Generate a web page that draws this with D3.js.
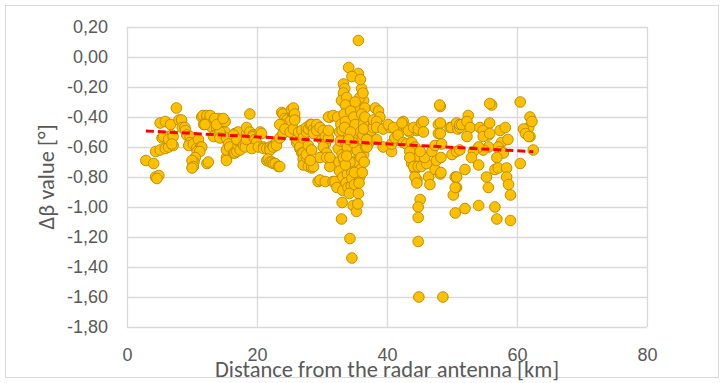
<!DOCTYPE html>
<html>
<head>
<meta charset="utf-8">
<script src="https://cdn.jsdelivr.net/npm/d3@7"></script>
<style>
  body { margin: 0; background: #fff; }
  svg { display: block; font-family: Carlito, Calibri, Lato, sans-serif; }
  .grid line { stroke: #d9d9d9; stroke-width: 1.3; }
  .grid text { fill: #595959; font-size: 18px; }
  .title { fill: #595959; font-size: 22.5px; }
</style>
</head>
<body>
<svg width="725" height="383"></svg>
<script>
// [distance km, delta beta deg]
const points = [
  [2.9,-0.69],[4.1,-0.71],[4.4,-0.80],[4.9,-0.79],[4.6,-0.81],
  [4.4,-0.63],[5.1,-0.62],[5.9,-0.61],[6.4,-0.60],[7.1,-0.59],
  [5.1,-0.44],[5.9,-0.43],[6.7,-0.45],[5.4,-0.54],[6.2,-0.53],[6.9,-0.52],[5.6,-0.53],[6.4,-0.55],[7.1,-0.53],[6.9,-0.58],
  [7.6,-0.34],
  [8.0,-0.42],[8.4,-0.42],[8.5,-0.47],[8.9,-0.47],[9.0,-0.49],[9.2,-0.52],[9.7,-0.53],[9.7,-0.57],[9.5,-0.59],[10.2,-0.58],[10.7,-0.61],
  [11.0,-0.55],[11.3,-0.60],[11.5,-0.60],[10.8,-0.63],[11.2,-0.63],[10.5,-0.67],[10.3,-0.70],[10.1,-0.73],[10.0,-0.69],[10.2,-0.73],[10.0,-0.74],[12.3,-0.71],[12.5,-0.70],
  [11.5,-0.40],[11.7,-0.39],[12.3,-0.40],[12.3,-0.39],[12.8,-0.41],[12.8,-0.39],[13.3,-0.43],[13.3,-0.44],[13.1,-0.47],[13.8,-0.48],[11.8,-0.45],[12.0,-0.45],
  [13.6,-0.52],[13.3,-0.53],[14.1,-0.41],[14.6,-0.42],[14.3,-0.48],[14.9,-0.43],[15.1,-0.50],[14.3,-0.50],[14.3,-0.54],[13.5,-0.41],[13.8,-0.45],[15.1,-0.43],[14.8,-0.41],
  [15.3,-0.54],[15.6,-0.58],[15.8,-0.61],[15.3,-0.67],[15.3,-0.69],[15.3,-0.62],[15.8,-0.60],[16.4,-0.64],[16.6,-0.64],[16.9,-0.63],[17.1,-0.59],[17.4,-0.57],[17.4,-0.62],
  [16.6,-0.51],[17.1,-0.50],[16.4,-0.52],[16.9,-0.55],[17.9,-0.59],[18.2,-0.57],[18.2,-0.60],[18.4,-0.51],[18.4,-0.47],[18.4,-0.55],[18.9,-0.38],[18.9,-0.50],
  [19.4,-0.52],[19.4,-0.53],[19.7,-0.55],[19.9,-0.58],[19.9,-0.57],[19.2,-0.61],[20.2,-0.60],[20.5,-0.50],[20.7,-0.51],
  [21.0,-0.60],[21.0,-0.61],[21.5,-0.61],[22.0,-0.60],[22.0,-0.62],[22.5,-0.59],[22.5,-0.60],[23.0,-0.57],[23.0,-0.59],[23.5,-0.54],[24.0,-0.51],
  [21.5,-0.69],[21.7,-0.68],[22.0,-0.70],[22.3,-0.70],[22.5,-0.71],[22.8,-0.71],[23.3,-0.73],[23.5,-0.73],
  [23.8,-0.37],[24.0,-0.38],[24.3,-0.41],[24.6,-0.45],[24.6,-0.42],[25.3,-0.35],[25.6,-0.39],[25.6,-0.40],[25.8,-0.41],[25.1,-0.43],[23.8,-0.45],[23.5,-0.45],
  [24.3,-0.48],[25.1,-0.50],[25.6,-0.48],[25.6,-0.34],[25.8,-0.38],[25.8,-0.42],
  [26.1,-0.57],[26.1,-0.55],[26.6,-0.61],[26.6,-0.60],[26.9,-0.64],[27.1,-0.64],[27.1,-0.68],[27.4,-0.71],[27.1,-0.72],[27.6,-0.67],[27.6,-0.65],[27.9,-0.73],
  [28.2,-0.69],[28.4,-0.74],[28.4,-0.73],[26.4,-0.50],[26.9,-0.49],[27.1,-0.54],[27.6,-0.50],[27.6,-0.47],[27.9,-0.59],[27.9,-0.48],[28.4,-0.62],[28.2,-0.45],
  [28.4,-0.45],[28.7,-0.48],[28.7,-0.51],[29.2,-0.47],[29.2,-0.45],[28.7,-0.73],
  [29.4,-0.83],[29.7,-0.82],[30.5,-0.83],[31.7,-0.83],[32.0,-0.83],[32.3,-0.87],
  [29.2,-0.49],[29.7,-0.47],[30.0,-0.55],[30.2,-0.49],[30.5,-0.53],[30.5,-0.58],[30.2,-0.60],[31.0,-0.54],[31.0,-0.49],[31.2,-0.40],[31.0,-0.40],[31.7,-0.39],
  [30.7,-0.64],[31.5,-0.69],[31.2,-0.73],[29.7,-0.67],[30.7,-0.67],[31.2,-0.67],[28.2,-0.69],
  [35.6,0.11],[34.1,-0.07],[35.6,-0.11],[33.3,-0.18],[33.5,-0.21],[33.3,-0.24],[33.0,-0.29],[33.8,-0.27],[34.3,-0.33],[34.8,-0.38],[36.1,-0.21],[36.4,-0.29],
  [35.8,-0.27],[35.3,-0.35],[35.8,-0.42],[34.6,-0.44],[34.0,-0.40],[35.0,-0.47],[34.6,-0.13],[35.9,-0.15],[36.3,-0.24],[33.6,-0.32],[35.1,-0.30],[36.6,-0.34],
  [32.4,-0.40],[32.7,-0.50],[32.5,-0.61],[32.6,-0.70],[32.9,-0.45],[32.8,-0.56],[33.1,-0.65],[32.7,-0.76],[33.2,-0.80],[33.4,-0.38],[33.1,-0.49],[33.7,-0.58],
  [33.4,-0.69],[33.9,-0.78],[33.2,-0.89],[33.1,-0.97],[33.6,-0.43],[34.1,-0.53],[33.9,-0.63],[34.2,-0.73],[33.7,-0.84],[34.4,-0.36],[33.5,-0.47],[34.5,-0.57],
  [33.3,-0.67],[34.6,-0.77],[34.0,-0.87],[34.9,-0.40],[34.7,-0.50],[35.2,-0.60],[34.9,-0.70],[35.4,-0.80],[35.1,-0.45],[35.5,-0.55],[35.7,-0.65],[35.2,-0.75],
  [34.5,-0.86],[35.9,-0.50],[36.1,-0.60],[35.5,-0.70],[34.6,-0.81],[34.2,-0.91],[36.2,-0.55],[36.4,-0.65],[35.9,-0.75],[34.8,-0.99],[33.9,-0.60],[34.3,-0.70],
  [35.0,-0.85],[36.3,-0.52],[35.4,-0.62],[33.6,-0.72],[35.8,-0.80],[36.6,-0.45],[34.8,-0.57],[36.0,-0.67],[35.0,-0.77],[35.3,-1.03],[34.4,-0.50],[36.7,-0.60],
  [36.5,-0.70],[35.6,-0.91],[35.5,-0.98],[34.1,-0.55],[33.8,-0.66],[35.7,-0.84],[36.2,-0.77],[36.1,-0.38],[36.8,-0.48],[37.1,-0.58],[36.4,-0.45],[37.2,-0.53],
  [36.6,-0.40],[36.9,-0.60],[37.4,-0.53],[37.6,-0.49],[36.4,-0.48],[37.9,-0.47],[37.9,-0.42],
  [33.0,-1.08],[34.3,-1.21],[34.6,-1.34],
  [38.2,-0.34],[38.7,-0.36],[38.9,-0.40],[38.4,-0.43],[38.4,-0.47],[39.4,-0.48],[40.5,-0.47],[41.5,-0.49],[42.5,-0.43],[43.0,-0.47],[43.5,-0.50],[44.6,-0.49],
  [40.7,-0.63],[39.4,-0.60],[38.4,-0.55],[36.9,-0.55],
  [40.2,-0.45],[41.0,-0.47],[42.3,-0.44],[43.3,-0.49],[44.1,-0.47],[44.8,-0.48],[45.3,-0.44],[45.6,-0.43],[45.6,-0.50],
  [40.7,-0.58],[41.2,-0.54],[41.7,-0.52],[42.5,-0.57],[43.0,-0.58],[43.8,-0.57],[44.3,-0.60],[43.5,-0.63],[44.3,-0.68],[43.8,-0.71],[44.3,-0.75],[44.6,-0.82],
  [43.5,-0.67],[44.1,-0.73],[44.3,-0.80],[44.6,-0.84],[44.8,-0.73],
  [45.3,-0.73],[46.1,-0.71],[46.4,-0.80],[46.6,-0.85],[47.4,-0.75],[47.6,-0.69],[48.2,-0.78],[45.8,-0.67],[45.1,-0.63],[46.9,-0.63],[47.4,-0.59],[47.9,-0.45],
  [47.9,-0.51],[48.2,-0.33],[48.1,-0.32],[48.2,-0.44],[48.2,-0.51],[48.4,-0.58],[48.3,-0.67],[48.3,-0.77],
  [45.1,-0.95],[44.8,-1.00],[44.8,-1.07],[44.8,-1.23],[44.9,-1.60],[48.6,-1.60],
  [49.7,-0.47],[49.9,-0.47],[50.7,-0.44],[50.9,-0.48],[51.2,-0.47],[51.2,-0.45],[51.5,-0.45],[52.5,-0.39],[52.3,-0.43],[52.8,-0.47],[54.3,-0.47],[54.8,-0.49],
  [55.6,-0.52],[55.8,-0.44],[54.8,-0.53],[52.3,-0.53],[55.8,-0.51],
  [50.0,-0.65],[50.7,-0.63],[51.2,-0.62],[50.5,-0.80],[50.7,-0.87],[50.2,-0.92],[50.7,-0.80],[50.5,-0.87],
  [57.6,-0.57],[57.1,-0.60],[57.4,-0.63],[57.9,-0.64],[56.9,-0.67],[55.6,-0.60],[54.8,-0.62],[54.1,-0.60],[53.3,-0.63],[53.0,-0.67],[54.1,-0.72],[52.0,-0.75],
  [55.3,-0.80],[55.6,-0.87],[56.6,-0.75],[57.1,-0.74],[58.4,-0.74],[58.4,-0.80],[58.7,-0.85],[59.0,-0.92],
  [57.4,-0.49],[58.2,-0.47],[58.6,-0.55],
  [56.1,-0.32],[55.8,-0.31],[60.5,-0.30],
  [50.5,-1.04],[52.0,-1.01],[54.1,-0.99],[56.6,-1.00],[56.9,-1.08],[59.0,-1.09],
  [60.5,-0.71],[62.5,-0.62],[62.0,-0.53],[61.8,-0.47],[61.0,-0.48],[61.3,-0.51],[62.0,-0.40],[62.3,-0.43],[61.8,-0.53]
];

// linear trend line (ends)
const trendX = [2.9, 62.5];
const trendY = [-0.493, -0.631];

const xTicks = [0, 20, 40, 60, 80];
const yTicks = [0.2, 0, -0.2, -0.4, -0.6, -0.8, -1.0, -1.2, -1.4, -1.6, -1.8];

const xTitle = "Distance from the radar antenna [km]";
const yTitle = "Δβ value [°]";

const W = 725, H = 383;
const margin = { top: 27, right: 78, bottom: 56, left: 127 };
const width = W - margin.left - margin.right;
const height = H - margin.top - margin.bottom;

const svg = d3.select("svg");

// outer chart frame
svg.append("rect")
    .attr("x", 5.5).attr("y", 5.5)
    .attr("width", W - 12).attr("height", H - 11)
    .attr("fill", "#fff")
    .attr("stroke", "#d9d9d9");

const loc = d3.formatLocale({ decimal: ",", thousands: ".", grouping: [3], currency: ["", ""], minus: "-" });
const fmt = loc.format(".2f");

const x = d3.scaleLinear().domain([0, 80]).range([0, width]);
const y = d3.scaleLinear().domain([-1.8, 0.2]).range([height, 0]);

const g = svg.append("g")
    .attr("transform", "translate(" + margin.left + "," + margin.top + ")");

g.append("g")
    .attr("class", "grid")
    .call(d3.axisLeft(y).tickValues(yTicks).tickSize(-width).tickPadding(19).tickFormat(fmt))
    .call(s => s.select(".domain").remove());

g.append("g")
    .attr("class", "grid")
    .attr("transform", "translate(0," + height + ")")
    .call(d3.axisBottom(x).tickValues(xTicks).tickSize(-height).tickPadding(21).tickFormat(d3.format("d")))
    .call(s => s.select(".domain").remove());

g.selectAll(".grid text").attr("font-family", null);

g.append("g")
    .selectAll("circle")
    .data(points)
    .join("circle")
    .attr("cx", d => x(d[0]))
    .attr("cy", d => y(d[1]))
    .attr("r", 5.3)
    .attr("fill", "#ffc000")
    .attr("stroke", "#bf9000")
    .attr("stroke-width", 1);

const trend = d3.line()
    .x(d => x(d[0]))
    .y(d => y(d[1]));

g.append("path")
    .datum(d3.zip(trendX, trendY))
    .attr("d", trend)
    .attr("fill", "none")
    .attr("stroke", "#ff0000")
    .attr("stroke-width", 3)
    .attr("stroke-dasharray", "8,4");

svg.append("text")
    .attr("class", "title")
    .attr("x", margin.left + width / 2)
    .attr("y", 377)
    .attr("text-anchor", "middle")
    .text(xTitle);

svg.append("text")
    .attr("class", "title")
    .attr("transform", "translate(54," + (margin.top + height / 2) + ") rotate(-90)")
    .attr("text-anchor", "middle")
    .text(yTitle);
</script>
</body>
</html>
